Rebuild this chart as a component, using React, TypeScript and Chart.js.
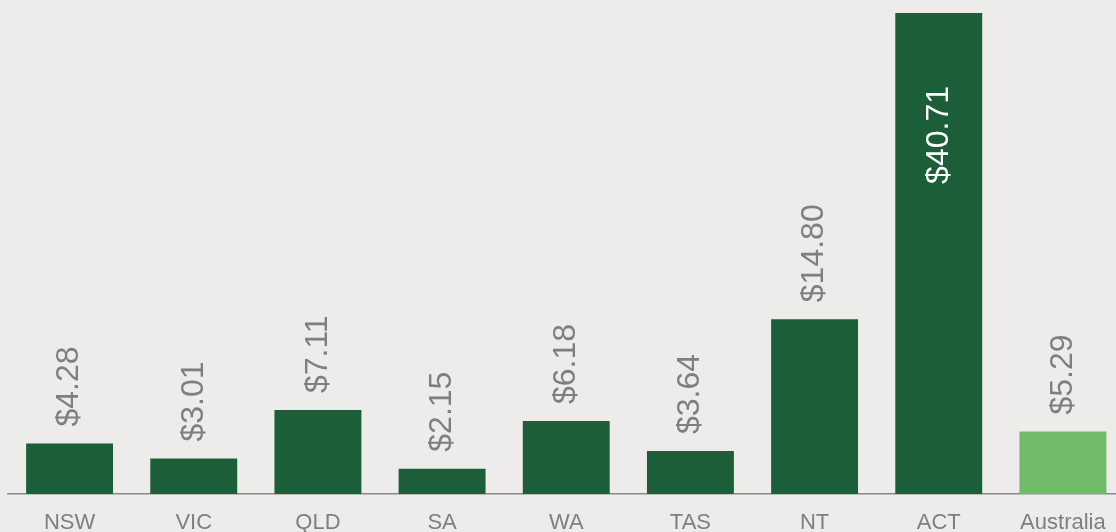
import React, { useEffect, useRef } from "react";
import { Chart, registerables } from "chart.js";

Chart.register(...registerables);

const categories = ["NSW", "VIC", "QLD", "SA", "WA", "TAS", "NT", "ACT", "Australia"];
const values = [4.28, 3.01, 7.11, 2.15, 6.18, 3.64, 14.8, 40.71, 5.29];
const labelTexts = ["$4.28", "$3.01", "$7.11", "$2.15", "$6.18", "$3.64", "$14.80", "$40.71", "$5.29"];

const DARK = "#1B5E38";
const LIGHT = "#70BA6A";
const BG = "#EDECEA";
const TEXT = "#7F7F7F";
const FONT = "'Liberation Sans', Arial, sans-serif";

const labelPlugin = {
  id: "rotLabels",
  afterDatasetsDraw(chart: any) {
    const ctx = chart.ctx;
    const meta = chart.getDatasetMeta(0);
    const maxV = Math.max(...values);
    ctx.save();
    ctx.font = `32px ${FONT}`;
    ctx.textBaseline = "middle";
    meta.data.forEach((bar: any, i: number) => {
      const v = values[i];
      const x = bar.x;
      const top = bar.y;
      ctx.save();
      if (v === maxV) {
        ctx.translate(x, top + 73);
        ctx.rotate(-Math.PI / 2);
        ctx.textAlign = "right";
        ctx.fillStyle = "#FFFFFF";
      } else {
        ctx.translate(x, top - 17);
        ctx.rotate(-Math.PI / 2);
        ctx.textAlign = "left";
        ctx.fillStyle = TEXT;
      }
      ctx.fillText(labelTexts[i], 0, 0);
      ctx.restore();
    });
    ctx.restore();
  },
};

export default function App() {
  const ref = useRef<HTMLCanvasElement | null>(null);
  useEffect(() => {
    if (!ref.current) return;
    const chart = new Chart(ref.current, {
      type: "bar",
      data: {
        labels: categories,
        datasets: [
          {
            data: values,
            backgroundColor: categories.map((c) => (c === "Australia" ? LIGHT : DARK)),
            borderWidth: 0,
            barPercentage: 0.7,
            categoryPercentage: 1,
          },
        ],
      },
      options: {
        animation: false,
        responsive: false,
        maintainAspectRatio: false,
        layout: { padding: { left: 7.5, right: 0, top: 13, bottom: 3.5 } },
        plugins: { legend: { display: false }, tooltip: { enabled: false } },
        scales: {
          x: {
            grid: { display: false, drawTicks: false },
            border: { display: true, color: "#8A8A8A", width: 1.5 },
            ticks: {
              color: TEXT,
              font: { family: FONT, size: 22 },
              padding: 16,
              maxRotation: 0,
              autoSkip: false,
            },
          },
          y: {
            display: false,
            min: 0,
            max: 40.71,
          },
        },
      },
      plugins: [labelPlugin],
    });
    return () => chart.destroy();
  }, []);
  return (
    <div style={{ position: "fixed", left: 0, top: 0, width: 1116, height: 532, overflow: "hidden", background: BG }}>
      <canvas ref={ref} width={1125} height={556} style={{ position: "absolute", left: 0, top: 0, width: 1125, height: 556 }} />
    </div>
  );
}
